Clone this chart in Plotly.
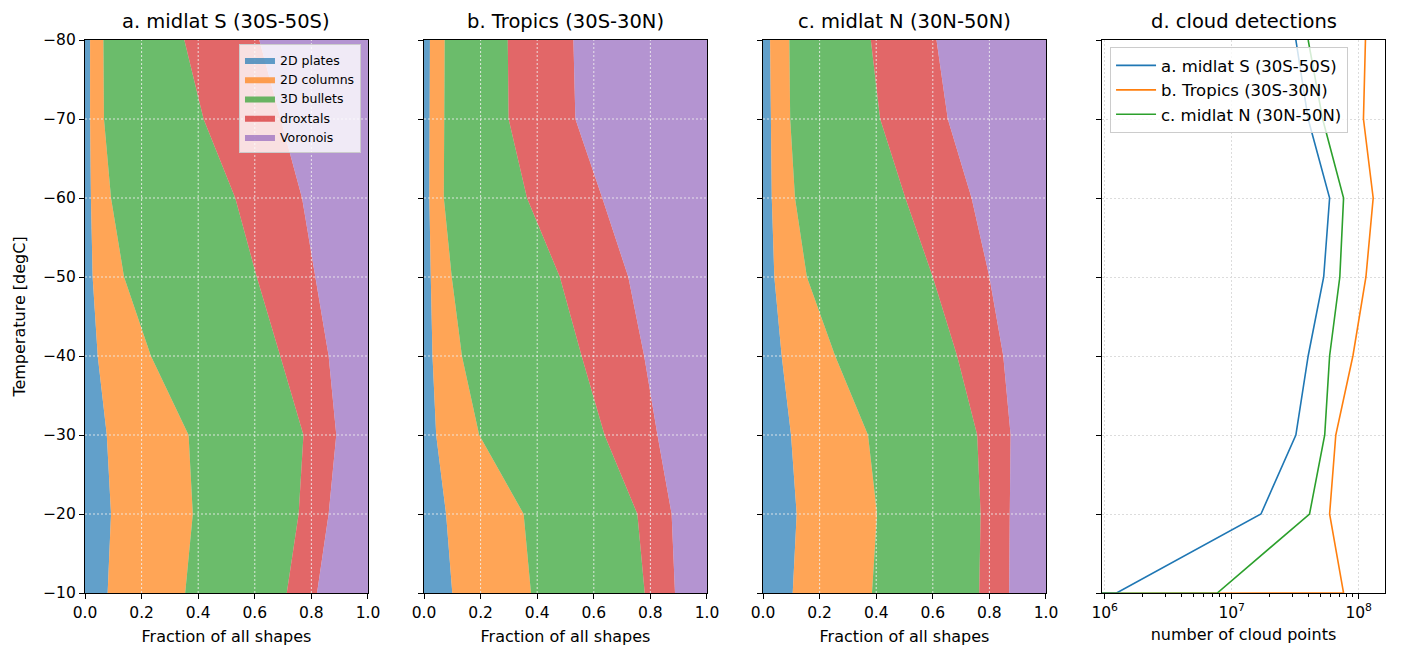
import numpy as np
import plotly.graph_objects as go
from plotly.subplots import make_subplots

# temperature levels (degC), bottom to top
temps = [-10, -20, -30, -40, -50, -60, -70, -80]

shape_names = ["2D plates", "2D columns", "3D bullets", "droxtals", "Voronois"]
shape_colors = [
    "rgba(31,119,180,0.7)",
    "rgba(255,127,14,0.7)",
    "rgba(44,160,44,0.7)",
    "rgba(214,39,40,0.7)",
    "rgba(148,103,189,0.7)",
]

# fraction of each habit per temperature level
midlat_s_plates = [0.080, 0.092, 0.077, 0.045, 0.027, 0.021, 0.018, 0.018]
midlat_s_columns = [0.274, 0.289, 0.289, 0.188, 0.111, 0.071, 0.049, 0.047]
midlat_s_bullets = [0.359, 0.374, 0.406, 0.457, 0.469, 0.439, 0.352, 0.286]
midlat_s_droxtals = [0.107, 0.106, 0.116, 0.171, 0.207, 0.236, 0.272, 0.265]
midlat_s_voronois = [0.180, 0.139, 0.112, 0.139, 0.186, 0.233, 0.309, 0.384]

tropics_plates = [0.100, 0.078, 0.043, 0.030, 0.024, 0.019, 0.021, 0.021]
tropics_columns = [0.278, 0.274, 0.152, 0.104, 0.074, 0.051, 0.051, 0.052]
tropics_bullets = [0.402, 0.402, 0.443, 0.423, 0.382, 0.294, 0.227, 0.223]
tropics_droxtals = [0.107, 0.121, 0.187, 0.221, 0.242, 0.266, 0.236, 0.232]
tropics_voronois = [0.113, 0.125, 0.175, 0.222, 0.278, 0.370, 0.465, 0.472]

midlat_n_plates = [0.105, 0.119, 0.099, 0.066, 0.040, 0.031, 0.027, 0.025]
midlat_n_columns = [0.280, 0.284, 0.272, 0.189, 0.115, 0.082, 0.069, 0.068]
midlat_n_bullets = [0.379, 0.366, 0.386, 0.431, 0.445, 0.390, 0.318, 0.288]
midlat_n_droxtals = [0.106, 0.103, 0.118, 0.163, 0.200, 0.234, 0.239, 0.232]
midlat_n_voronois = [0.130, 0.128, 0.125, 0.151, 0.200, 0.263, 0.347, 0.387]

# cloud point counts; the 0 degC bin is empty
count_temps = [0, -10, -20, -30, -40, -50, -60, -70, -80]
counts_midlat_s = [0, 1.24e6, 1.7e7, 3.2e7, 4.0e7, 5.3e7, 5.9e7, 4.0e7, 3.2e7]
counts_tropics = [0, 7.6e7, 5.9e7, 6.6e7, 9.0e7, 1.14e8, 1.30e8, 1.09e8, 1.13e8]
counts_midlat_n = [0, 7.7e6, 4.1e7, 5.4e7, 5.9e7, 7.1e7, 7.6e7, 5.2e7, 4.0e7]

region_names = ["a. midlat S (30S-50S)", "b. Tropics (30S-30N)", "c. midlat N (30N-50N)"]
line_colors = ["#1f77b4", "#ff7f0e", "#2ca02c"]

temp_ticks = [-80, -70, -60, -50, -40, -30, -20, -10]
frac_ticks = [0.0, 0.2, 0.4, 0.6, 0.8, 1.0]

FONT = "DejaVu Sans"

panels = [
    [midlat_s_plates, midlat_s_columns, midlat_s_bullets, midlat_s_droxtals, midlat_s_voronois],
    [tropics_plates, tropics_columns, tropics_bullets, tropics_droxtals, tropics_voronois],
    [midlat_n_plates, midlat_n_columns, midlat_n_bullets, midlat_n_droxtals, midlat_n_voronois],
]

fig = make_subplots(
    rows=1, cols=4,
    horizontal_spacing=0.0431,
    subplot_titles=(*region_names, "d. cloud detections"),
)

for col, fracs in enumerate(panels, start=1):
    for name, color, vals in zip(shape_names, shape_colors, fracs):
        fig.add_trace(go.Scatter(
            x=vals,
            y=temps,
            mode="lines",
            line=dict(width=0),
            fillcolor=color,
            stackgroup=f"shapes{col}",
            orientation="h",
            name=name,
            showlegend=(col == 1),
            legend="legend",
        ), row=1, col=col)

    # dotted grid drawn on top of the filled areas
    for t in temp_ticks[1:-1]:
        fig.add_hline(y=t, row=1, col=col, layer="above",
                      line=dict(color="rgba(240,240,240,0.85)", width=1, dash="2px,2px"))
    for f in frac_ticks[1:-1]:
        fig.add_vline(x=f, row=1, col=col, layer="above",
                      line=dict(color="rgba(240,240,240,0.85)", width=1, dash="2px,2px"))

for name, color, counts in zip(region_names, line_colors,
                               [counts_midlat_s, counts_tropics, counts_midlat_n]):
    # non-positive counts clipped to a tiny value on the log axis
    clipped = np.clip(np.asarray(counts, dtype=float), 1e-300, None)
    fig.add_trace(go.Scatter(
        x=clipped,
        y=count_temps,
        mode="lines",
        line=dict(color=color, width=1.6),
        name=name,
        legend="legend2",
    ), row=1, col=4)

axis_common = dict(
    showline=True, linecolor="black", linewidth=1.1, mirror=True,
    ticks="outside", ticklen=5, tickwidth=1.1, tickcolor="black",
    tickfont=dict(family=FONT, size=15.5, color="black"),
    zeroline=False, automargin=False,
)

for col in range(1, 4):
    fig.update_xaxes(
        range=[0, 1], tickvals=frac_ticks, tickformat=".1f", showgrid=False,
        title=dict(text="Fraction of all shapes", font=dict(family=FONT, size=16, color="black"), standoff=10),
        row=1, col=col, **axis_common,
    )

decades = [1e6, 1e7, 1e8]
fig.update_xaxes(
    type="log", range=[5.979, 8.207],
    tickvals=decades, ticktext=["10<sup>6</sup>", "10<sup>7</sup>", "10<sup>8</sup>"],
    minor=dict(tickvals=[k * d for d in decades for k in range(2, 10)],
               ticks="outside", ticklen=3, tickcolor="black", tickwidth=0.8, showgrid=False),
    showgrid=True, gridcolor="#dcdcdc", griddash="2px,2px", gridwidth=1,
    title=dict(text="number of cloud points", font=dict(family=FONT, size=16, color="black"), standoff=8),
    row=1, col=4, **axis_common,
)

for col in range(1, 5):
    fig.update_yaxes(
        range=[-10, -80], tickvals=temp_ticks,
        showticklabels=(col == 1),
        showgrid=(col == 4), gridcolor="#dcdcdc", griddash="2px,2px", gridwidth=1,
        row=1, col=col, **axis_common,
    )
fig.update_yaxes(
    title=dict(text="Temperature [degC]", font=dict(family=FONT, size=16, color="black"), standoff=13),
    row=1, col=1,
)

for ann in fig.layout.annotations:
    ann.font = dict(family=FONT, size=19.5, color="black")
    ann.yshift = 5

# page body adds an 8px margin, so the figure is sized to fit inside it
fig.update_layout(
    width=1385, height=645,
    margin=dict(l=77, r=8, t=32, b=60),
    paper_bgcolor="white", plot_bgcolor="white",
    font=dict(family=FONT, color="black"),
    legend=dict(
        x=0.2123, y=0.992, xanchor="right", yanchor="top",
        bgcolor="rgba(255,255,255,0.8)", bordercolor="#cccccc", borderwidth=1,
        font=dict(family=FONT, size=12.5, color="black"),
        itemwidth=30, tracegroupgap=0, traceorder="normal",
    ),
    legend2=dict(
        x=0.7885, y=0.987, xanchor="left", yanchor="top",
        bgcolor="rgba(255,255,255,0.8)", bordercolor="#cccccc", borderwidth=1,
        font=dict(family=FONT, size=16.5, color="black"),
        itemwidth=40, traceorder="normal",
    ),
)

fig.write_html("out.html")
